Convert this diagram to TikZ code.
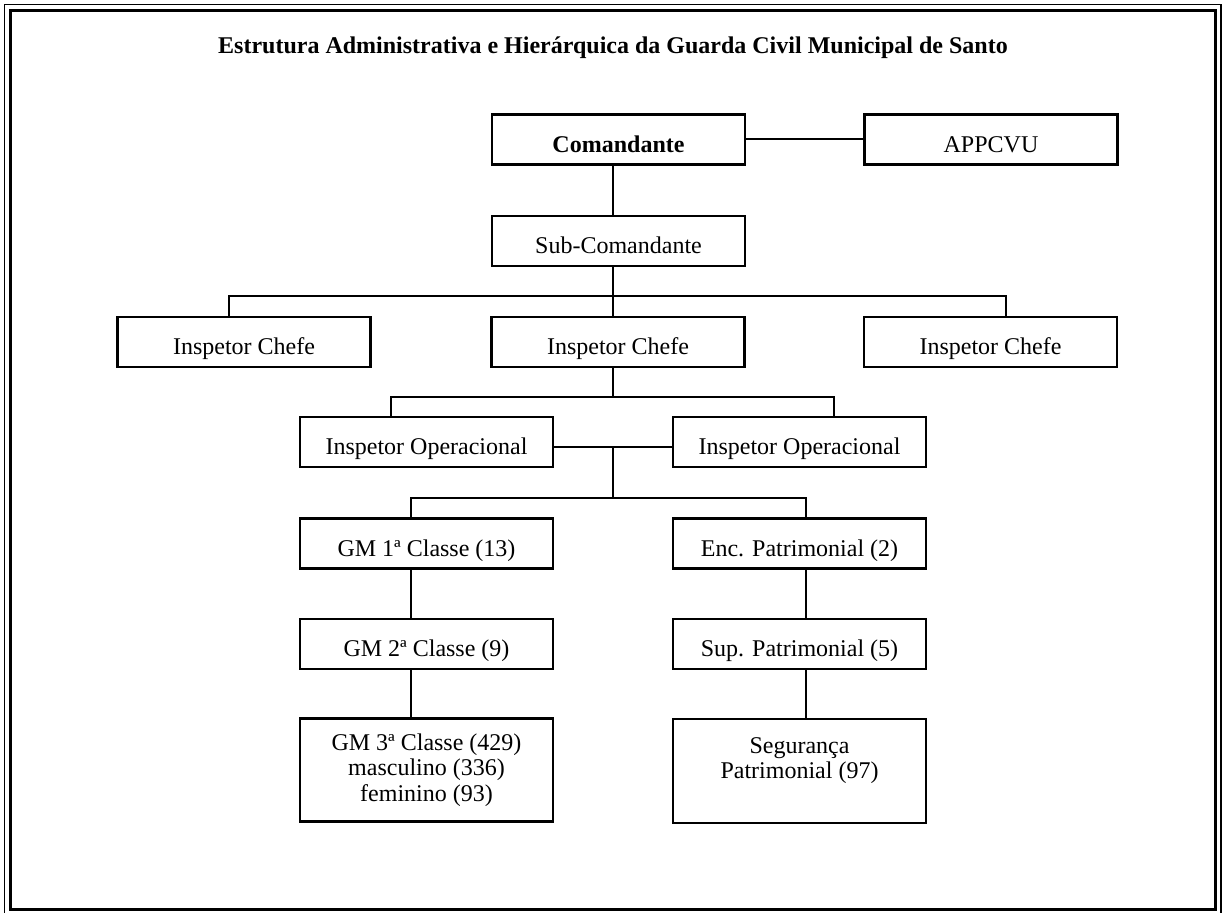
\documentclass[tikz,border=0pt]{standalone}
\usepackage{fontspec}
\setmainfont{Liberation Serif}
\usepackage{tikz}
\usetikzlibrary{calc}

\begin{document}
\begin{tikzpicture}[x=0.5pt, y=-0.5pt,
    caixaBase/.style={draw, line width=1.1pt, minimum width=126.5pt, minimum height=25pt,
        inner sep=0pt, font=\fontsize{12pt}{12.75pt}\selectfont},
    caixa/.style={caixaBase, text height=13pt, text depth=0pt},
    caixaAlta/.style={caixaBase, minimum height=51.5pt, align=center},
    liga/.style={line width=1pt}]
    \useasboundingbox (0,0) rectangle (1222,913);

    % moldura dupla
    \draw[line width=0.9pt] (4.5,4.5) rectangle (1221,916);
    \draw[line width=1.5pt] (10.5,10.5) rectangle (1215,910);

    \node[font=\fontsize{12pt}{12.75pt}\selectfont\bfseries, text height=13pt, text depth=0pt, inner sep=0pt]
        (titulo) at (613,41) {Estrutura Administrativa e Hierárquica da Guarda Civil Municipal de Santo};

    \node[caixa, font=\fontsize{12pt}{12.75pt}\selectfont\bfseries] (com) at (618.5,139.5) {Comandante};
    \node[caixa] (appcvu) at (991,139.5) {APPCVU};
    \node[caixa] (sub) at (618.5,241) {Sub-Comandante};

    \node[caixa] (chefeL) at (244,342) {Inspetor Chefe};
    \node[caixa] (chefeM) at (618,342) {Inspetor Chefe};
    \node[caixa] (chefeR) at (990.5,342) {Inspetor Chefe};

    \node[caixa] (opL) at (426.5,442) {Inspetor Operacional};
    \node[caixa] (opR) at (799.5,442) {Inspetor Operacional};

    \node[caixa] (gm1) at (426.5,543.5) {GM 1ª Classe (13)};
    \node[caixa] (enc) at (799.5,543.5) {Enc. Patrimonial (2)};
    \node[caixa] (gm2) at (426.5,644) {GM 2ª Classe (9)};
    \node[caixa] (sup) at (799.5,644) {Sup. Patrimonial (5)};
    \node[caixaAlta] (gm3) at (426.5,770) {GM 3ª Classe (429)\\masculino (336)\\feminino (93)};
    \node[caixaAlta, minimum height=52pt] (seg) at (799.5,771) {Segurança\\Patrimonial (97)\\\mbox{}};

    % pontos de ligacao
    \coordinate (tronco) at (613,0);
    \coordinate (dL) at (229,296);
    \coordinate (dR) at (1006,296);
    \coordinate (eL) at (391,397);
    \coordinate (eR) at (834,397);
    \coordinate (meio) at (613,447);
    \coordinate (fL) at (411,498);
    \coordinate (fR) at (806,498);

    \draw[liga] (com.east) -- (appcvu.west);
    \draw[liga] (com.south -| tronco) -- (sub.north -| tronco);
    \draw[liga] (sub.south -| tronco) -- (chefeM.north -| tronco);
    \draw[liga] (chefeL.north -| dL) -- (dL) -- (dR) -- (chefeR.north -| dR);

    \draw[liga] (chefeM.south -| tronco) -- (tronco |- eL);
    \draw[liga] (opL.north -| eL) -- (eL) -- (eR) -- (opR.north -| eR);

    \draw[liga] (opL.east |- meio) -- (opR.west |- meio);
    \draw[liga] (meio) -- (tronco |- fL);
    \draw[liga] (gm1.north -| fL) -- (fL) -- (fR) -- (enc.north -| fR);

    \draw[liga] (gm1.south -| fL) -- (gm2.north -| fL);
    \draw[liga] (gm2.south -| fL) -- (gm3.north -| fL);
    \draw[liga] (enc.south -| fR) -- (sup.north -| fR);
    \draw[liga] (sup.south -| fR) -- (seg.north -| fR);
\end{tikzpicture}
\end{document}
